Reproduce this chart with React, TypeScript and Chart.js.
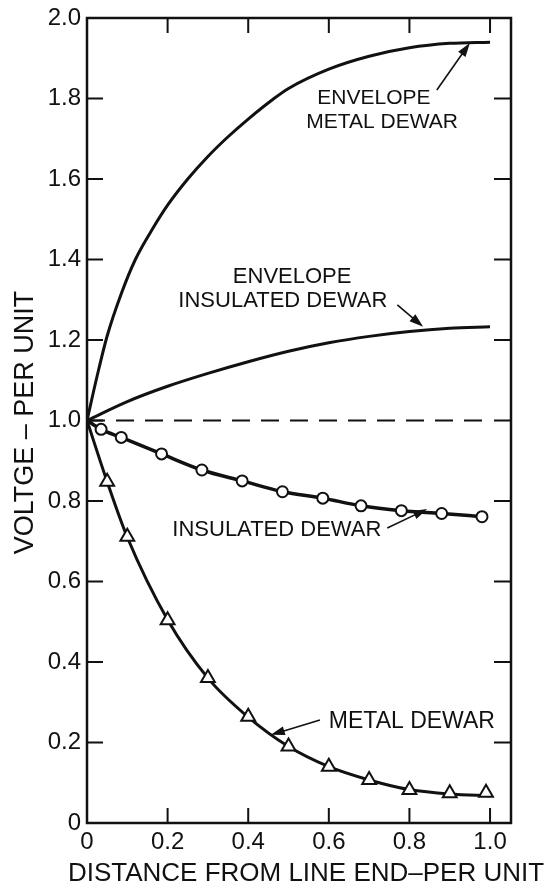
import React, { useEffect, useRef } from 'react';
import { Chart, registerables } from 'chart.js';

Chart.register(...registerables);

// ---- axis ticks ----
const xTickValues = [0, 0.2, 0.4, 0.6, 0.8, 1.0];
const xTickLabels = ['0', '0.2', '0.4', '0.6', '0.8', '1.0'];
const yTickValues = [0, 0.2, 0.4, 0.6, 0.8, 1.0, 1.2, 1.4, 1.6, 1.8, 2.0];
const yTickLabels = ['0', '0.2', '0.4', '0.6', '0.8', '1.0', '1.2', '1.4', '1.6', '1.8', '2.0'];

const xTitle = 'DISTANCE FROM LINE END\u2013PER UNIT';
const yTitle = 'VOLTGE \u2013 PER UNIT';

// ---- series ----
// Envelope, metal dewar
const envMetalX = [0, 0.025, 0.05, 0.085, 0.12, 0.165, 0.2, 0.25, 0.3, 0.35, 0.4, 0.46, 0.5, 0.6, 0.7, 0.8, 0.9, 1.0];
const envMetalY = [1.0, 1.11, 1.21, 1.315, 1.4, 1.48, 1.535, 1.6, 1.656, 1.705, 1.749, 1.797, 1.825, 1.873, 1.905, 1.926, 1.937, 1.94];

// Envelope, insulated dewar
const envInsX = [0, 0.1, 0.2, 0.3, 0.4, 0.5, 0.6, 0.7, 0.8, 0.9, 1.0];
const envInsY = [1.0, 1.047, 1.085, 1.117, 1.146, 1.172, 1.193, 1.209, 1.221, 1.229, 1.233];

// Reference (dashed) line at 1.0
const refX = [0, 1.0];
const refY = [1.0, 1.0];

// Insulated dewar (circles)
const insDewarX = [0, 0.035, 0.085, 0.185, 0.285, 0.385, 0.485, 0.585, 0.68, 0.78, 0.88, 0.98];
const insDewarY = [1.0, 0.978, 0.958, 0.917, 0.877, 0.85, 0.823, 0.807, 0.788, 0.776, 0.769, 0.761];

// Metal dewar smooth curve
const metalCurveX = [0, 0.05, 0.1, 0.2, 0.3, 0.4, 0.5, 0.6, 0.7, 0.8, 0.9, 1.0];
const metalCurveY = [1.0, 0.848, 0.71, 0.505, 0.36, 0.263, 0.19, 0.14, 0.107, 0.083, 0.072, 0.068];

// Metal dewar measured points (triangles)
const metalPtsX = [0.05, 0.1, 0.2, 0.3, 0.4, 0.5, 0.6, 0.7, 0.8, 0.9, 0.99];
const metalPtsY = [0.848, 0.711, 0.504, 0.36, 0.264, 0.19, 0.14, 0.107, 0.082, 0.074, 0.075];

// ---- annotations (data coordinates) ----
const annotations = [
  { lines: ['ENVELOPE', 'METAL DEWAR'], lx: [0.712, 0.732], ly: [1.801, 1.742], size: 21, tail: [0.868, 1.821], tip: [0.95, 1.938] },
  { lines: ['ENVELOPE', 'INSULATED DEWAR'], lx: [0.509, 0.486], ly: [1.357, 1.297], size: 22, tail: [0.77, 1.287], tip: [0.834, 1.233] },
  { lines: ['INSULATED DEWAR'], lx: [0.471], ly: [0.728], size: 22, tail: [0.745, 0.733], tip: [0.844, 0.78] },
  { lines: ['METAL DEWAR'], lx: [0.806], ly: [0.253], size: 23, tail: [0.578, 0.256], tip: [0.456, 0.219] },
];

const FONT = '"Liberation Sans", Arial, sans-serif';
const INK = '#111';

const zip = (xs: number[], ys: number[]) => xs.map((x, i) => ({ x, y: ys[i] }));

function drawArrow(ctx: CanvasRenderingContext2D, x1: number, y1: number, x2: number, y2: number) {
  const ang = Math.atan2(y2 - y1, x2 - x1);
  const len = 14;
  const hw = 4.5;
  ctx.beginPath();
  ctx.moveTo(x1, y1);
  ctx.lineTo(x2 - Math.cos(ang) * len * 0.6, y2 - Math.sin(ang) * len * 0.6);
  ctx.lineWidth = 1.6;
  ctx.stroke();
  ctx.beginPath();
  ctx.moveTo(x2, y2);
  ctx.lineTo(x2 - Math.cos(ang) * len + Math.sin(ang) * hw, y2 - Math.sin(ang) * len - Math.cos(ang) * hw);
  ctx.lineTo(x2 - Math.cos(ang) * len - Math.sin(ang) * hw, y2 - Math.sin(ang) * len + Math.cos(ang) * hw);
  ctx.closePath();
  ctx.fill();
}

const overlayPlugin = {
  id: 'overlay',
  afterDraw(chart: any) {
    const { ctx, chartArea: ca } = chart;
    const xs = chart.scales.x;
    const ys = chart.scales.y;
    ctx.save();
    ctx.strokeStyle = INK;
    ctx.fillStyle = INK;
    ctx.lineCap = 'butt';

    // frame
    ctx.lineWidth = 2.5;
    ctx.strokeRect(ca.left, ca.top, ca.right - ca.left, ca.bottom - ca.top);

    // inward tick marks
    ctx.lineWidth = 2;
    xTickValues.forEach((v) => {
      if (v === 0) return;
      const px = xs.getPixelForValue(v);
      ctx.beginPath();
      ctx.moveTo(px, ca.bottom);
      ctx.lineTo(px, ca.bottom - 15);
      ctx.moveTo(px, ca.top);
      ctx.lineTo(px, ca.top + 15);
      ctx.stroke();
    });
    yTickValues.forEach((v) => {
      if (v === 0 || v === 2.0) return;
      const py = ys.getPixelForValue(v);
      ctx.beginPath();
      ctx.moveTo(ca.left, py);
      ctx.lineTo(ca.left + 16, py);
      ctx.moveTo(ca.right, py);
      ctx.lineTo(ca.right - 17, py);
      ctx.stroke();
    });

    // annotations
    ctx.textAlign = 'center';
    ctx.textBaseline = 'middle';
    annotations.forEach((a) => {
      ctx.font = `${a.size}px ${FONT}`;
      a.lines.forEach((t, i) => {
        ctx.fillText(t, xs.getPixelForValue(a.lx[i]), ys.getPixelForValue(a.ly[i]));
      });
      drawArrow(
        ctx,
        xs.getPixelForValue(a.tail[0]),
        ys.getPixelForValue(a.tail[1]),
        xs.getPixelForValue(a.tip[0]),
        ys.getPixelForValue(a.tip[1])
      );
    });

    // axis titles
    ctx.font = `26px ${FONT}`;
    ctx.fillText(xTitle, (ca.left + ca.right) / 2 + 7, ca.bottom + 51);
    ctx.save();
    ctx.translate(26, (ca.top + ca.bottom) / 2 + 2);
    ctx.rotate(-Math.PI / 2);
    ctx.font = `27px ${FONT}`;
    ctx.fillText(yTitle, 0, 0);
    ctx.restore();

    ctx.restore();
  },
};

export default function App() {
  const ref = useRef<HTMLCanvasElement | null>(null);

  useEffect(() => {
    if (!ref.current) return;
    const chart = new Chart(ref.current, {
      type: 'line',
      data: {
        datasets: [
          {
            label: 'Metal dewar points',
            data: zip(metalPtsX, metalPtsY),
            showLine: false,
            pointStyle: 'triangle',
            pointRadius: 8,
            pointBackgroundColor: '#fff',
            pointBorderColor: INK,
            pointBorderWidth: 2,
          },
          {
            label: 'Insulated dewar',
            data: zip(insDewarX, insDewarY),
            borderColor: INK,
            borderWidth: 3.5,
            cubicInterpolationMode: 'monotone',
            pointStyle: 'circle',
            pointRadius: insDewarX.map((_, i) => (i === 0 ? 0 : 5.5)),
            pointBackgroundColor: '#fff',
            pointBorderColor: INK,
            pointBorderWidth: 2,
          },
          {
            label: 'Metal dewar',
            data: zip(metalCurveX, metalCurveY),
            borderColor: INK,
            borderWidth: 3,
            cubicInterpolationMode: 'monotone',
            pointRadius: 0,
          },
          {
            label: 'Envelope metal dewar',
            data: zip(envMetalX, envMetalY),
            borderColor: INK,
            borderWidth: 3,
            cubicInterpolationMode: 'monotone',
            pointRadius: 0,
          },
          {
            label: 'Envelope insulated dewar',
            data: zip(envInsX, envInsY),
            borderColor: INK,
            borderWidth: 3,
            cubicInterpolationMode: 'monotone',
            pointRadius: 0,
          },
          {
            label: 'Reference',
            data: zip(refX, refY),
            borderColor: INK,
            borderWidth: 2,
            borderDash: [18, 11],
            pointRadius: 0,
          },
        ],
      },
      options: {
        animation: false,
        responsive: false,
        devicePixelRatio: 1,
        layout: { padding: { top: 18, right: 44, bottom: 0, left: 0 } },
        plugins: {
          legend: { display: false },
          tooltip: { enabled: false },
          title: { display: false },
        },
        events: [],
        scales: {
          x: {
            type: 'linear',
            min: 0,
            max: 1.052,
            grid: { display: false, drawTicks: false },
            border: { display: false },
            afterBuildTicks: (s: any) => {
              s.ticks = xTickValues.map((value) => ({ value }));
            },
            afterFit: (s: any) => {
              s.height = 63;
              s.paddingLeft = 0;
              s.paddingRight = 0;
              s.paddingTop = 0;
              s.paddingBottom = 0;
            },
            ticks: {
              color: INK,
              padding: 5,
              maxRotation: 0,
              autoSkip: false,
              font: { family: FONT, size: 24 },
              callback: (v: any) => {
                const i = xTickValues.findIndex((t) => Math.abs(t - Number(v)) < 1e-6);
                return i >= 0 ? xTickLabels[i] : '';
              },
            },
          },
          y: {
            type: 'linear',
            min: 0,
            max: 2.0,
            grid: { display: false, drawTicks: false },
            border: { display: false },
            afterBuildTicks: (s: any) => {
              s.ticks = yTickValues.map((value) => ({ value }));
            },
            afterFit: (s: any) => {
              s.width = 87;
              s.paddingLeft = 0;
              s.paddingRight = 0;
              s.paddingTop = 0;
              s.paddingBottom = 0;
            },
            ticks: {
              color: INK,
              padding: 6,
              autoSkip: false,
              font: { family: FONT, size: 24 },
              callback: (v: any) => {
                const i = yTickValues.findIndex((t) => Math.abs(t - Number(v)) < 1e-6);
                return i >= 0 ? yTickLabels[i] : '';
              },
            },
          },
        },
      },
      plugins: [overlayPlugin],
    } as any);
    return () => chart.destroy();
  }, []);

  return (
    <div style={{ position: 'fixed', left: 0, top: 0, width: 555, height: 886, background: '#fff' }}>
      <canvas ref={ref} width={555} height={886} style={{ display: 'block' }} />
    </div>
  );
}
